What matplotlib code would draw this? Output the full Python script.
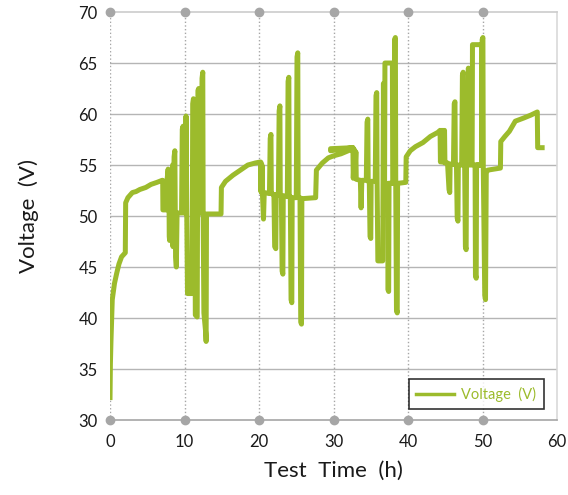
import numpy as np
import matplotlib
matplotlib.use('Agg')
import matplotlib.pyplot as plt

plt.rcParams['font.family'] = ['Lato', 'DejaVu Sans']

# first charge (rest curve up to first pulses)
t0 = [0.0, 0.05, 0.13, 0.3, 0.6, 0.9, 1.2, 1.55, 2.05, 2.1, 2.4, 3.0, 3.5, 4.0, 4.8, 5.5, 6.3, 7.0]
v0 = [32.2, 35.5, 37.8, 41.8, 43.4, 44.4, 45.3, 46.0, 46.4, 51.3, 51.8, 52.3, 52.4, 52.6, 52.8, 53.1, 53.3, 53.5]

# pulse block 1
t1 = [7.07, 7.1, 7.6, 7.65, 7.8, 7.85, 7.9, 7.95, 8.0, 8.05, 8.1, 8.15, 8.2, 8.3, 8.4, 8.45, 8.6, 8.7,
      8.75, 8.8, 8.9, 9.0, 9.6, 9.7, 9.8, 9.85, 10.1, 10.2, 10.3, 10.4, 11.0, 11.05, 11.1, 11.2, 11.25,
      11.4, 11.45, 11.7, 11.75, 11.8, 11.9, 11.95, 12.3, 12.35, 12.45, 12.5, 12.6, 12.85, 12.9, 12.95,
      14.9, 14.95, 15.5, 16.5, 17.5, 18.5, 19.5, 20.2]
v1 = [53.5, 50.6, 50.6, 53.5, 54.6, 50.8, 54.0, 48.0, 47.6, 50.5, 54.2, 48.5, 47.8, 50.3, 55.0, 47.0,
      55.8, 56.4, 50.3, 46.0, 45.0, 50.3, 50.3, 58.5, 58.8, 50.3, 50.3, 59.8, 50.3, 42.4, 42.4, 50.3,
      61.0, 61.5, 50.3, 50.3, 40.3, 40.1, 50.3, 62.3, 62.5, 50.3, 50.3, 63.5, 64.1, 50.3, 40.5, 38.5,
      37.7, 50.2, 50.2, 52.8, 53.4, 54.0, 54.5, 55.0, 55.2, 55.3]

# pulse block 2
t2 = [20.25, 20.3, 20.35, 20.4, 20.45, 20.6, 20.7, 21.4, 21.5, 21.6, 21.65, 22.0, 22.1, 22.25, 22.3, 22.6,
      22.7, 22.8, 22.85, 23.0, 23.1, 23.2, 23.25, 23.8, 23.9, 24.0, 24.05, 24.2, 24.3, 24.4, 24.45, 25.0,
      25.1, 25.2, 25.25, 25.5, 25.6, 25.7, 25.75, 27.6, 27.7, 28.5, 29.3]
v2 = [52.4, 55.2, 52.3, 55.0, 52.3, 49.7, 52.3, 52.2, 57.6, 58.0, 52.2, 52.1, 47.0, 46.8, 52.1, 52.1,
      60.3, 60.8, 52.0, 52.0, 44.6, 44.3, 52.0, 51.9, 63.2, 63.6, 51.9, 51.9, 41.8, 41.5, 51.8, 51.8,
      65.6, 66.0, 51.8, 51.8, 39.6, 39.4, 51.7, 51.8, 54.5, 55.2, 55.7]

# pulse block 3
t3 = [30.0, 31.0, 32.3, 32.6, 29.6, 29.6, 32.6, 32.65, 32.8, 32.85, 33.0, 33.05, 33.6, 33.7, 33.8, 34.4,
      34.5, 34.6, 34.65, 34.8, 34.9, 35.0, 35.05, 35.6, 35.7, 35.8, 35.85, 35.95, 36.6, 36.65, 36.7, 36.75,
      36.85, 36.9, 37.9, 37.95, 37.3, 37.3, 37.4, 37.45, 38.1, 38.2, 38.3, 38.35, 38.45, 38.55, 38.6, 39.7]
v3 = [55.9, 56.1, 56.5, 56.7, 56.6, 56.4, 56.7, 53.7, 56.5, 53.8, 56.3, 53.6, 53.5, 50.8, 53.5, 53.5,
      59.2, 59.5, 53.4, 53.4, 48.0, 47.8, 53.4, 53.4, 61.8, 62.1, 53.3, 45.6, 45.6, 53.3, 63.0, 53.2,
      53.2, 65.0, 65.0, 53.2, 53.2, 42.8, 42.6, 53.2, 53.2, 67.3, 67.5, 53.1, 40.8, 40.5, 53.2, 53.3]

# pulse block 4 and final charge
t4 = [39.75, 40.3, 41.0, 42.0, 43.0, 44.0, 44.3, 44.35, 44.5, 44.55, 44.7, 44.75, 44.9, 44.95, 45.3, 45.5,
      45.6, 45.65, 46.1, 46.2, 46.3, 46.35, 46.5, 46.6, 46.7, 46.75, 47.2, 47.3, 47.4, 47.45, 47.6, 47.7,
      47.8, 47.85, 48.0, 48.1, 48.15, 48.6, 48.65, 49.9, 49.95, 49.0, 49.05, 49.15, 49.2, 49.9, 49.95, 50.05,
      50.1, 50.3, 50.4, 50.5, 50.7, 52.4, 52.45, 53.0, 53.6, 54.4, 55.5, 56.5, 57.35, 57.4, 58.0]
v4 = [55.8, 56.4, 56.8, 57.2, 57.8, 58.2, 58.4, 55.3, 58.4, 55.3, 58.4, 55.3, 58.4, 55.2, 55.2, 52.6,
      52.3, 55.1, 55.1, 61.0, 61.2, 55.0, 55.0, 49.8, 49.5, 55.0, 55.0, 63.8, 64.1, 55.0, 55.0, 47.0,
      46.7, 55.0, 55.0, 64.5, 55.0, 55.0, 66.8, 66.8, 55.0, 55.0, 44.2, 43.9, 55.0, 55.0, 67.3, 67.5,
      54.8, 42.2, 41.8, 54.3, 54.5, 54.7, 57.3, 57.8, 58.3, 59.3, 59.6, 59.9, 60.2, 56.7, 56.7]

xticks = [0, 10, 20, 30, 40, 50, 60]
yticks = [30, 35, 40, 45, 50, 55, 60, 65, 70]

t = np.array(t0 + t1 + t2 + t3 + t4)
v = np.array(v0 + v1 + v2 + v3 + v4)

green = '#9cbb2c'
grey = '#a6a6a6'

fig = plt.figure(figsize=(5.68, 4.95), dpi=100)
ax = fig.add_axes([0.1937, 0.1515, 0.7870, 0.8242])

for y in yticks[1:-1]:
    ax.axhline(y, color='#b5b5b5', lw=1.0, zorder=1)
for x in xticks[:-1]:
    ax.plot([x, x], [30, 70], ls=':', color=grey, lw=1.0, zorder=1)
    ax.plot([x, x], [30, 70], 'o', color=grey, ms=6, clip_on=False, zorder=4)

ax.plot(t, v, color=green, lw=3.6, label='Voltage  (V)', zorder=3)

ax.set_xlim(0, 60)
ax.set_ylim(30, 70)
ax.set_xticks(xticks)
ax.set_yticks(yticks)
ax.tick_params(length=0, labelsize=12, colors='#1a1a1a')
ax.tick_params(axis='x', pad=10)
ax.tick_params(axis='y', pad=9)

ax.spines['left'].set_visible(False)
ax.spines['bottom'].set_color(grey)
ax.spines['top'].set_color('#cccccc')
ax.spines['right'].set_color('#d9d9d9')
for s in ['bottom', 'top', 'right']:
    ax.spines[s].set_linewidth(1.2)

ax.set_xlabel('Test  Time  (h)', fontsize=16, labelpad=8, color='#1a1a1a')
ax.set_ylabel('Voltage  (V)', fontsize=16, labelpad=28, color='#1a1a1a')

leg = ax.legend(loc='lower right', bbox_to_anchor=(0.97, 0.027), borderaxespad=0,
                fontsize=10.5, fancybox=False, handlelength=2.6, handletextpad=0.5,
                borderpad=0.5, frameon=True)
leg.get_frame().set_edgecolor('black')
leg.get_frame().set_linewidth(1.2)
leg.get_lines()[0].set_linewidth(2.5)
for txt in leg.get_texts():
    txt.set_color(green)

fig.savefig('out.png', dpi=100)
